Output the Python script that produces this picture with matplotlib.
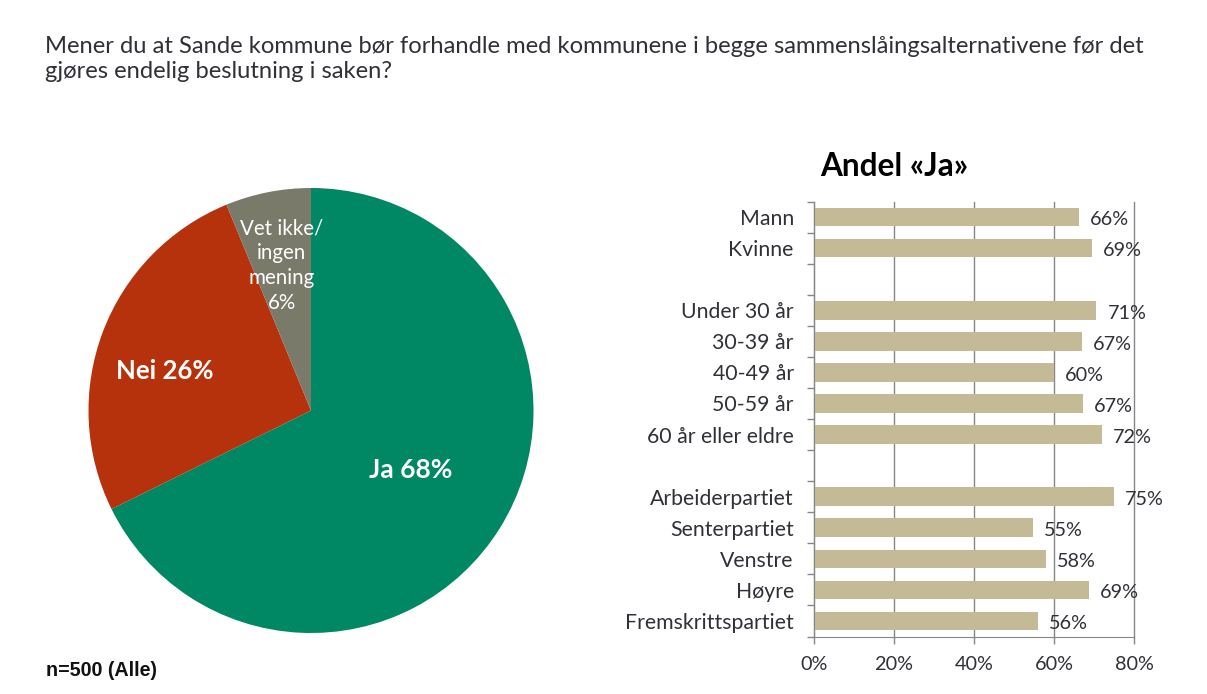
from matplotlib import pyplot as plt
import numpy as np

W = 1207
H = 694

pie_labels = ['Ja 68%', 'Nei 26%', 'Vet ikke/\ningen\nmening\n6%']
pie_values = [67.7, 26.1, 6.2]
pie_colors = ['#008763', '#B5320C', '#7A7A6A']

categories = ['Mann', 'Kvinne', '', 'Under 30 år', '30-39 år', '40-49 år', '50-59 år',
              '60 år eller eldre', '', 'Arbeiderpartiet', 'Senterpartiet', 'Venstre',
              'Høyre', 'Fremskrittspartiet']
bar_values = [66.2, 69.5, np.nan, 70.6, 67, 60, 67.3, 72, np.nan, 75, 54.8, 58, 68.8, 56]
bar_labels = ['66%', '69%', '', '71%', '67%', '60%', '67%', '72%', '', '75%', '55%', '58%', '69%', '56%']
xticks = [0, 20, 40, 60, 80]

question = ('Mener du at Sande kommune bør forhandle med kommunene i begge sammenslåingsalternativene før det\n'
            'gjøres endelig beslutning i saken?')

plt.rcParams['font.family'] = ['Lato', 'DejaVu Sans']
textColor = '#303038'
gridColor = '#868686'


def px(x, y):
    # pixel position (from top left) to figure fraction
    return x / W, 1 - y / H


fig = plt.figure(figsize=(W / 100, H / 100), dpi=100)

# question and footer
fig.text(*px(45, 59), question, fontsize=17.1, color=textColor, va='center', ha='left', linespacing=1.25)
fig.text(*px(46, 670), 'n=500 (Alle)', fontsize=14.2, color='#111111', weight='bold',
         family='Liberation Sans', va='center', ha='left')
fig.text(*px(894, 167), 'Andel «Ja»', fontsize=22.7, color='black', weight='bold', va='center', ha='center')

# pie
cx, cy, r = 311, 410.5, 222.5
axPie = fig.add_axes([(cx - r) / W, 1 - (cy + r) / H, 2 * r / W, 2 * r / H])
axPie.pie(pie_values, colors=pie_colors, startangle=90, counterclock=False, radius=1)
axPie.set_xlim(-1, 1)
axPie.set_ylim(-1, 1)
fig.text(*px(411, 470), pie_labels[0], fontsize=19, color='white', weight='bold', ha='center', va='center')
fig.text(*px(165, 371), pie_labels[1], fontsize=18.5, color='white', weight='bold', ha='center', va='center')
fig.text(*px(282, 265.5), pie_labels[2], fontsize=14.8, color='white', ha='center', va='center', linespacing=1.3)

# bars
left, right, top, bottom = 814, 1134, 201.5, 636.5
ax = fig.add_axes([left / W, 1 - bottom / H, (right - left) / W, (bottom - top) / H])
pos = np.arange(len(categories))
ax.set_axisbelow(True)
ax.barh(pos, bar_values, height=0.6, color='#C4BB96')
ax.set_xlim(0, 80)
ax.set_ylim(len(categories) - 0.5, -0.5)

ax.set_xticks(xticks)
ax.set_xticklabels([str(t) + '%' for t in xticks], fontsize=14.3, color=textColor)
ax.set_yticks(np.arange(len(categories) + 1) - 0.5)
ax.set_yticklabels([])
ax.set_yticks(pos, minor=True)
ax.set_yticklabels(categories, minor=True, fontsize=15.3, color=textColor)
ax.tick_params(axis='y', which='minor', length=0, pad=14.5)
ax.tick_params(axis='y', which='major', length=5, width=1, color=gridColor)
ax.tick_params(axis='x', length=5, width=1, color=gridColor, pad=9)
ax.grid(axis='x', color=gridColor, linewidth=1, clip_on=False)
for s in ['top', 'right']:
    ax.spines[s].set_visible(False)
for s in ['left', 'bottom']:
    ax.spines[s].set_color(gridColor)

for i in range(len(categories)):
    if bar_labels[i]:
        ax.annotate(bar_labels[i], (bar_values[i], pos[i]), xytext=(8, -2), textcoords='offset points',
                    fontsize=14.3, color=textColor, va='center', ha='left')

fig.savefig('out.png', dpi=100)
